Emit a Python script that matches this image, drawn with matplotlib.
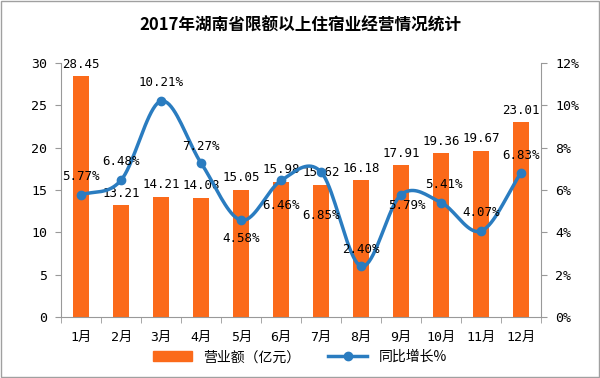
import numpy as np
import matplotlib.pyplot as plt
from matplotlib.lines import Line2D
from matplotlib.patches import Patch

plt.rcParams['font.family'] = ['DejaVu Sans Mono', 'Noto Sans CJK SC']

months = ['1月', '2月', '3月', '4月', '5月', '6月', '7月', '8月', '9月', '10月', '11月', '12月']
revenue = [28.45, 13.21, 14.21, 14.08, 15.05, 15.98, 15.62, 16.18, 17.91, 19.36, 19.67, 23.01]
growth = [5.77, 6.48, 10.21, 7.27, 4.58, 6.46, 6.85, 2.40, 5.79, 5.41, 4.07, 6.83]
# label offsets (points) for the growth labels
growth_offsets = [(0, 13), (0, 13), (0, 13), (0, 12), (0, -13), (0, -18), (0, -31),
                  (0, 12), (4, -8), (2, 13), (0, 13), (0, 12)]

bar_color = '#fb6a1a'
line_color = '#2a7cc0'


def smooth(x, y, n=20):
    # Catmull-Rom curve through the points, like a smoothed Excel line
    x = np.asarray(x, float)
    y = np.asarray(y, float)
    px = np.concatenate([[2 * x[0] - x[1]], x, [2 * x[-1] - x[-2]]])
    py = np.concatenate([[2 * y[0] - y[1]], y, [2 * y[-1] - y[-2]]])
    xs, ys = [], []
    t = np.linspace(0, 1, n, endpoint=False)
    for i in range(1, len(px) - 2):
        for p, out in ((px, xs), (py, ys)):
            p0, p1, p2, p3 = p[i - 1], p[i], p[i + 1], p[i + 2]
            out.extend(0.5 * (2 * p1 + (-p0 + p2) * t + (2 * p0 - 5 * p1 + 4 * p2 - p3) * t ** 2
                              + (-p0 + 3 * p1 - 3 * p2 + p3) * t ** 3))
    xs.append(x[-1])
    ys.append(y[-1])
    return xs, ys


fig = plt.figure(figsize=(6, 3.78), dpi=100)
ax = fig.add_axes([0.102, 0.161, 0.8, 0.672])
x = np.arange(len(months))

ax.bar(x, revenue, width=0.4, color=bar_color, zorder=2)
for xi, v in zip(x, revenue):
    ax.annotate(f'{v:.2f}', (xi, v), xytext=(0, 4), textcoords='offset points',
                ha='center', va='bottom', fontsize=9)

ax.set_xlim(-0.5, len(months) - 0.5)
ax.set_ylim(0, 30)
ax.set_yticks(range(0, 31, 5))
ax.set_xticks(x)
ax.set_xticklabels(months, fontsize=9.5)
ax.set_xticks(np.arange(-0.5, len(months), 1), minor=True)
ax.tick_params(axis='x', which='major', length=0, pad=10)
ax.tick_params(axis='x', which='minor', length=4, color='#999999')
ax.tick_params(axis='y', labelsize=9.5, length=4, color='#999999', pad=6)
for s in ['top', 'right']:
    ax.spines[s].set_visible(False)
for s in ['left', 'bottom']:
    ax.spines[s].set_color('#999999')

ax2 = ax.twinx()
sx, sy = smooth(x, growth)
ax2.plot(sx, sy, color=line_color, lw=2.5, zorder=3)
ax2.plot(x, growth, 'o', color=line_color, ms=6, zorder=4)
for xi, v, off in zip(x, growth, growth_offsets):
    ax2.annotate(f'{v:.2f}%', (xi, v), xytext=off, textcoords='offset points',
                 ha='center', va='center', fontsize=9)
ax2.set_ylim(0, 12)
ax2.set_yticks(range(0, 13, 2))
ax2.set_yticklabels([f'{t}%' for t in range(0, 13, 2)])
ax2.tick_params(axis='y', labelsize=9.5, length=4, color='#999999', pad=6)
for s in ['top', 'left', 'bottom']:
    ax2.spines[s].set_visible(False)
ax2.spines['right'].set_color('#999999')

fig.suptitle('2017年湖南省限额以上住宿业经营情况统计', y=0.955, fontsize=12,
             fontweight='bold', family=['Noto Sans CJK SC'])

handles = [Patch(color=bar_color),
           Line2D([0], [0], color=line_color, lw=2.5, marker='o', ms=6)]
fig.legend(handles, ['营业额（亿元）', '同比增长%'], loc='center', bbox_to_anchor=(0.5, 0.055),
           ncol=2, frameon=False, handlelength=2.8, columnspacing=2,
           prop={'family': ['Noto Sans CJK SC'], 'size': 10})

fig.add_artist(plt.Rectangle((0.002, 0.003), 0.996, 0.994, transform=fig.transFigure,
                             fill=False, edgecolor='#a0a0a0', lw=1))

fig.savefig('out.png', dpi=100)
